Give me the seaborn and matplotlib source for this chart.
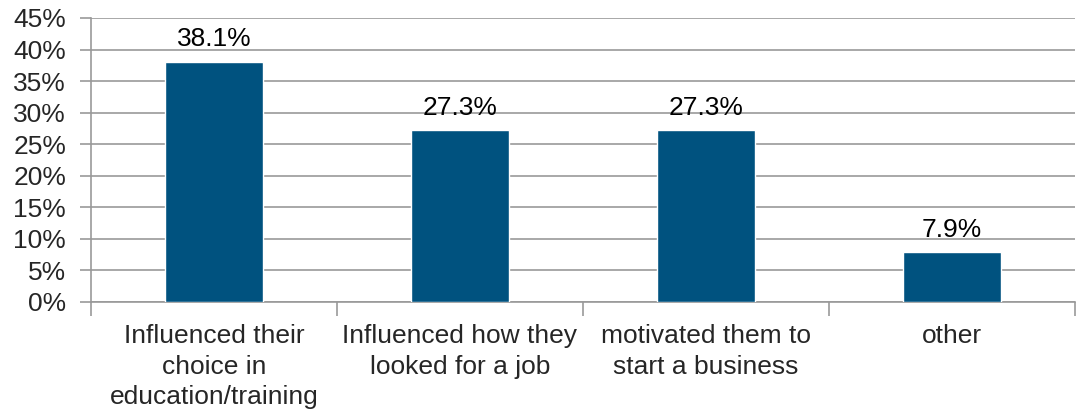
import matplotlib
matplotlib.use('Agg')
import matplotlib.pyplot as plt
import seaborn as sns
import pandas as pd
from matplotlib.ticker import PercentFormatter, FixedLocator

categories = ['Influenced their\nchoice in\neducation/training',
              'Influenced how they\nlooked for a job',
              'motivated them to\nstart a business',
              'other']
values = [38.1, 27.3, 27.3, 7.9]

df = pd.DataFrame({'category': categories, 'value': values})

sns.set_style('white')
plt.rcParams['font.family'] = ['Liberation Sans', 'DejaVu Sans']

fig, ax = plt.subplots(figsize=(10.78, 4.09), dpi=100)
fig.subplots_adjust(left=0.0845, right=0.997, top=0.956, bottom=0.262)

sns.barplot(data=df, x='category', y='value', color='#00527F', width=0.4,
            saturation=1, ax=ax, zorder=3)

for i, v in enumerate(values):
    ax.text(i, v + 1.6, f'{v:.1f}%', ha='center', va='bottom', fontsize=19, color='black')

ax.set_ylim(0, 45)
ax.set_xlim(-0.5, len(categories) - 0.5)
ax.set_yticks(range(0, 46, 5))
ax.yaxis.set_major_formatter(PercentFormatter(decimals=0))
ax.grid(axis='y', color='#999999', linewidth=1.2, zorder=0)
ax.set_axisbelow(True)

ax.xaxis.set_minor_locator(FixedLocator([i - 0.5 for i in range(len(categories) + 1)]))
ax.tick_params(axis='x', which='major', length=0, pad=16, labelsize=19)
ax.tick_params(axis='x', which='minor', length=10, width=1.2, color='#999999', bottom=True)
ax.tick_params(axis='y', length=8, width=1.2, color='#999999', labelsize=19, pad=10, left=True)
for lab in ax.get_xticklabels():
    lab.set_linespacing(1.34)

for s in ['top', 'right']:
    ax.spines[s].set_visible(False)
for s in ['left', 'bottom']:
    ax.spines[s].set_color('#999999')
    ax.spines[s].set_linewidth(1.2)

ax.set_xlabel('')
ax.set_ylabel('')

fig.savefig('out.png', dpi=100)
